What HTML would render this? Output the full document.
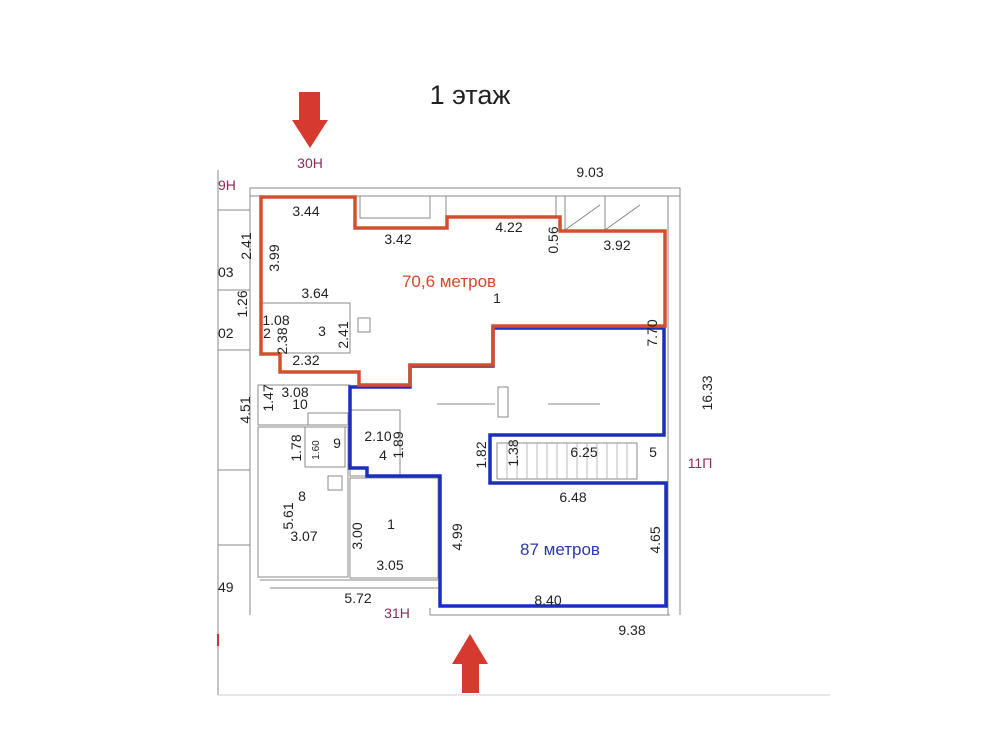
<!DOCTYPE html>
<html><head><meta charset="utf-8"><style>
html,body{margin:0;padding:0;background:#fff;}
svg{display:block;}
text{font-family:"Liberation Sans",sans-serif;fill:#222;font-size:14px;}
.w{stroke:#888;stroke-width:1;fill:none;}
</style></head><body>
<svg width="1000" height="750" viewBox="0 0 1000 750" xmlns="http://www.w3.org/2000/svg">
<rect width="1000" height="750" fill="#fff"/>
<text x="470" y="104" text-anchor="middle" style="font-size:27px">1 этаж</text>
<path d="M299,92 H320 V120 H328 L310,148 L292,120 H299 Z" fill="#d63a2f"/>
<path d="M462,693 H479 V664 H488 L470,634 L452,664 H462 Z" fill="#d63a2f"/>
<g class="w">
<line x1="218" y1="170" x2="218" y2="695"/>
<line x1="218" y1="695" x2="830" y2="695" stroke="#ccc"/>
<rect x="250" y="188" width="430" height="8"/>
<line x1="668" y1="196" x2="668" y2="615"/>
<line x1="680" y1="188" x2="680" y2="615"/>
<rect x="360" y="196" width="70" height="22"/>
<rect x="446" y="196" width="110" height="20"/>
<line x1="565" y1="196" x2="565" y2="231"/><line x1="605" y1="196" x2="605" y2="231"/>
<line x1="565" y1="230" x2="600" y2="205"/><line x1="605" y1="230" x2="640" y2="205"/>
<line x1="250" y1="188" x2="250" y2="615"/>
<line x1="218" y1="210" x2="250" y2="210"/>
<line x1="218" y1="290" x2="250" y2="290"/>
<line x1="218" y1="350" x2="250" y2="350"/>
<line x1="218" y1="470" x2="250" y2="470"/>
<line x1="218" y1="545" x2="250" y2="545"/>
<rect x="262" y="303" width="88" height="50"/>
<rect x="358" y="318" width="12" height="14"/>
<rect x="258" y="385" width="92" height="40"/>
<rect x="308" y="413" width="40" height="12"/>
<rect x="305" y="427" width="40" height="40"/>
<rect x="258" y="427" width="90" height="150"/>
<rect x="328" y="476" width="14" height="14"/>
<rect x="350" y="478" width="88" height="100"/>
<rect x="350" y="410" width="50" height="66"/>
<rect x="498" y="387" width="10" height="30"/>
<line x1="437" y1="404" x2="495" y2="404"/><line x1="548" y1="404" x2="600" y2="404"/>
<rect x="497" y="443" width="140" height="36"/>
<line x1="260" y1="580" x2="440" y2="580"/>
<line x1="270" y1="588" x2="440" y2="588"/>
<line x1="430" y1="615" x2="670" y2="615"/>
<line x1="430" y1="608" x2="430" y2="615"/>
</g>
<g stroke="#aaa" stroke-width="0.8">
<line x1="507" y1="443" x2="507" y2="479"/><line x1="517" y1="443" x2="517" y2="479"/><line x1="527" y1="443" x2="527" y2="479"/><line x1="537" y1="443" x2="537" y2="479"/><line x1="547" y1="443" x2="547" y2="479"/><line x1="557" y1="443" x2="557" y2="479"/><line x1="567" y1="443" x2="567" y2="479"/><line x1="577" y1="443" x2="577" y2="479"/><line x1="587" y1="443" x2="587" y2="479"/><line x1="597" y1="443" x2="597" y2="479"/><line x1="607" y1="443" x2="607" y2="479"/><line x1="617" y1="443" x2="617" y2="479"/><line x1="627" y1="443" x2="627" y2="479"/>
</g>
<path d="M350,387 H410 V366 H493 V328 H664 V435 H490 V483 H666 V606 H440 V476 H367 V468 H350 Z" fill="none" stroke="#1a2fc0" stroke-width="3.5"/>
<path d="M261,197 H355 V228 H447 V217 H560 V231 H665 V326 H493 V365 H410 V385 H359 V372 H280 V354 H261 Z" fill="none" stroke="#d2502e" stroke-width="3.5"/>
<text x="310" y="168" text-anchor="middle" style="fill:#8b2a5a">30Н</text>
<text x="218" y="190" style="fill:#8b2a5a">9Н</text>
<text x="590" y="177" text-anchor="middle">9.03</text>
<text x="306" y="216" text-anchor="middle">3.44</text>
<text x="398" y="244" text-anchor="middle">3.42</text>
<text x="509" y="232" text-anchor="middle">4.22</text>
<text x="617" y="250" text-anchor="middle">3.92</text>
<text transform="translate(558,240) rotate(-90)" text-anchor="middle">0.56</text>
<text transform="translate(251,246) rotate(-90)" text-anchor="middle">2.41</text>
<text transform="translate(279,258) rotate(-90)" text-anchor="middle">3.99</text>
<text x="218" y="277">03</text>
<text x="449" y="287" text-anchor="middle" style="fill:#d04a2a;font-size:17px">70,6 метров</text>
<text x="497" y="303" text-anchor="middle">1</text>
<text x="315" y="298" text-anchor="middle">3.64</text>
<text transform="translate(247,304) rotate(-90)" text-anchor="middle">1.26</text>
<text x="276" y="325" text-anchor="middle">1.08</text>
<text x="267" y="338" text-anchor="middle">2</text>
<text transform="translate(287,341) rotate(-90)" text-anchor="middle">2.38</text>
<text x="322" y="336" text-anchor="middle">3</text>
<text transform="translate(348,335) rotate(-90)" text-anchor="middle">2.41</text>
<text x="306" y="365" text-anchor="middle">2.32</text>
<text x="218" y="338">02</text>
<text transform="translate(657,333) rotate(-90)" text-anchor="middle">7.70</text>
<text x="295" y="397" text-anchor="middle">3.08</text>
<text x="300" y="409" text-anchor="middle">10</text>
<text transform="translate(273,398) rotate(-90)" text-anchor="middle">1.47</text>
<text transform="translate(250,410) rotate(-90)" text-anchor="middle">4.51</text>
<text transform="translate(712,393) rotate(-90)" text-anchor="middle">16.33</text>
<text x="337" y="448" text-anchor="middle">9</text>
<text transform="translate(319,450) rotate(-90)" text-anchor="middle" style="font-size:10px">1.60</text>
<text transform="translate(301,448) rotate(-90)" text-anchor="middle">1.78</text>
<text x="378" y="441" text-anchor="middle">2.10</text>
<text x="383" y="460" text-anchor="middle">4</text>
<text transform="translate(403,445) rotate(-90)" text-anchor="middle">1.89</text>
<text transform="translate(486,455) rotate(-90)" text-anchor="middle">1.82</text>
<text transform="translate(518,453) rotate(-90)" text-anchor="middle">1.38</text>
<text x="584" y="457" text-anchor="middle">6.25</text>
<text x="653" y="457" text-anchor="middle">5</text>
<text x="700" y="468" text-anchor="middle" style="fill:#8b2a5a">11П</text>
<text x="573" y="502" text-anchor="middle">6.48</text>
<text x="302" y="501" text-anchor="middle">8</text>
<text transform="translate(293,516) rotate(-90)" text-anchor="middle">5.61</text>
<text x="304" y="541" text-anchor="middle">3.07</text>
<text x="391" y="529" text-anchor="middle">1</text>
<text transform="translate(362,536) rotate(-90)" text-anchor="middle">3.00</text>
<text transform="translate(462,537) rotate(-90)" text-anchor="middle">4.99</text>
<text x="560" y="555" text-anchor="middle" style="fill:#2a3aa8;font-size:17px">87 метров</text>
<text transform="translate(660,540) rotate(-90)" text-anchor="middle">4.65</text>
<text x="390" y="570" text-anchor="middle">3.05</text>
<text x="218" y="592">49</text>
<text x="358" y="603" text-anchor="middle">5.72</text>
<text x="397" y="618" text-anchor="middle" style="fill:#8b2a5a">31Н</text>
<text x="548" y="605" text-anchor="middle">8.40</text>
<text x="632" y="635" text-anchor="middle">9.38</text>
<rect x="217" y="634" width="2" height="12" fill="#c33"/>
</svg>
</body></html>
